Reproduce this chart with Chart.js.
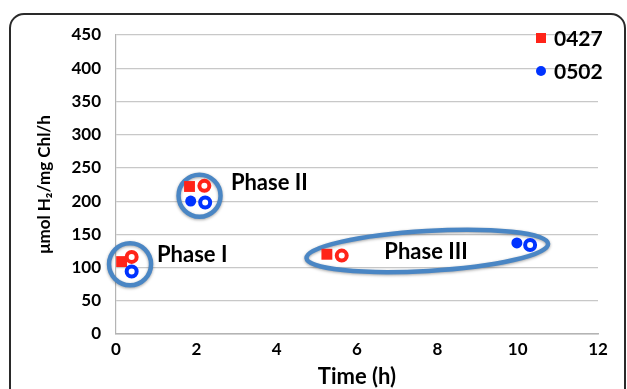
<!DOCTYPE html>
<html>
<head>
<meta charset="utf-8">
<script src="https://cdn.jsdelivr.net/npm/chart.js@4.4.1/dist/chart.umd.min.js"></script>
<style>
  html, body { margin:0; padding:0; background:#fff; overflow:hidden; }
  #wrap { position:relative; width:627px; height:389px; }
  #frame { position:absolute; left:9px; top:13px; width:613px; height:420px;
           border:2px solid #2a2a2a; border-radius:15px; }
  #chart { position:absolute; left:0; top:0; }
</style>
</head>
<body>
<div id="wrap">
  <div id="frame"></div>
  <canvas id="chart" width="627" height="389"></canvas>
</div>
<script>
// ---------- Data ----------
const xTicks = [0, 2, 4, 6, 8, 10, 12];
const yTicks = [0, 50, 100, 150, 200, 250, 300, 350, 400, 450];

// 0427 (filled squares) and its open-circle companion
const s0427 = [ {x:0.14, y:109}, {x:1.83, y:222}, {x:5.25, y:120} ];
const s0427open = [ {x:0.39, y:116}, {x:2.20, y:223}, {x:5.62, y:118} ];
// 0502 (filled circles) and its open-circle companion
const s0502 = [ {x:1.86, y:200}, {x:9.98, y:137} ];
const s0502open = [ {x:0.39, y:94}, {x:2.22, y:198}, {x:10.31, y:134} ];

// phase rings: centre in data units
const phaseNames = ['Phase I', 'Phase II', 'Phase III'];
const phaseRingX = [0.35, 2.08, 7.75];
const phaseRingY = [105, 208, 125];
const phaseLabelX = [1.02, 2.86, 7.72];
const phaseLabelY = [119, 228, 124];

const RED = '#ff2419';
const BLUE = '#0033ff';
const RING = '#4a86c4';
const FONT = 'Lato, "Open Sans", sans-serif';

// ---------- Plugins ----------
const phasePlugin = {
  id: 'phases',
  beforeDatasetsDraw(chart){
    const ctx = chart.ctx;
    const xs = chart.scales.x, ys = chart.scales.y;
    ctx.save();
    ctx.strokeStyle = RING;
    ctx.lineWidth = 4.5;
    ctx.shadowColor = 'rgba(0,0,0,0.35)';
    ctx.shadowBlur = 3;
    ctx.shadowOffsetY = 1;
    // ring sizes (px): circles for I & II, tilted ellipse for III
    const rx = [21, 21, 121], ry = [21, 21, 20], rot = [0, 0, -0.059];
    phaseNames.forEach((n, i) => {
      ctx.beginPath();
      ctx.ellipse(xs.getPixelForValue(phaseRingX[i]), ys.getPixelForValue(phaseRingY[i]), rx[i], ry[i], rot[i], 0, Math.PI*2);
      ctx.stroke();
    });
    ctx.restore();

    ctx.save();
    ctx.fillStyle = '#000';
    ctx.font = 'bold 22px ' + FONT;
    ctx.textBaseline = 'middle';
    phaseNames.forEach((n, i) => {
      ctx.textAlign = i === 2 ? 'center' : 'left';
      ctx.fillText(n, xs.getPixelForValue(phaseLabelX[i]), ys.getPixelForValue(phaseLabelY[i]));
    });
    ctx.restore();
  },
  afterDraw(chart){
    // legend, top right over the plot
    const ctx = chart.ctx;
    const items = chart.data.datasets.filter(d => d.showInLegend);
    ctx.save();
    ctx.font = 'bold 21px ' + FONT;
    ctx.textBaseline = 'middle';
    ctx.textAlign = 'left';
    items.forEach((d, i) => {
      const cx = 541, cy = 38 + i * 33;
      ctx.fillStyle = d.backgroundColor;
      if(d.pointStyle === 'rect') ctx.fillRect(cx - 5, cy - 5, 10, 10);
      else { ctx.beginPath(); ctx.arc(cx, cy, 5, 0, Math.PI*2); ctx.fill(); }
      ctx.fillStyle = '#000';
      ctx.fillText(d.label, 554, cy + 1);
    });
    ctx.restore();
  }
};

// ---------- Chart ----------
const ctx = document.getElementById('chart').getContext('2d');
new Chart(ctx, {
  type: 'scatter',
  data: {
    datasets: [
      { label:'0427 open', data:s0427open, pointStyle:'circle', pointRadius:5, borderWidth:4,
        borderColor:RED, backgroundColor:'#fff', order:0 },
      { label:'0502 open', data:s0502open, pointStyle:'circle', pointRadius:5, borderWidth:4,
        borderColor:BLUE, backgroundColor:'#fff', order:0 },
      { label:'0427', data:s0427, pointStyle:'rect', pointRadius:7.7, borderWidth:0,
        borderColor:RED, backgroundColor:RED, order:1, showInLegend:true },
      { label:'0502', data:s0502, pointStyle:'circle', pointRadius:5.5, borderWidth:0,
        borderColor:BLUE, backgroundColor:BLUE, order:1, showInLegend:true }
    ]
  },
  options: {
    responsive:false,
    animation:false,
    events:[],
    layout:{ padding:{ left:30, top:35, right:29, bottom:0 } },
    plugins:{ legend:{ display:false }, tooltip:{ enabled:false } },
    scales:{
      x:{
        type:'linear', min:0, max:12,
        afterBuildTicks: s => { s.ticks = xTicks.map(v => ({ value:v })); },
        afterFit: s => { s.height = 55; },
        grid:{ display:false, drawTicks:false },
        border:{ display:true, color:'#b4b4b4', width:1.5 },
        ticks:{ padding:5, color:'#000', font:{ family:FONT, size:17, weight:'bold' }, maxRotation:0 },
        title:{ display:true, text:'Time (h)', color:'#000', padding:{ top:0, bottom:-1 },
                font:{ family:FONT, size:22, weight:'bold' } }
      },
      y:{
        type:'linear', min:0, max:450,
        afterBuildTicks: s => { s.ticks = yTicks.map(v => ({ value:v })); },
        afterFit: s => { s.width = 86; },
        grid:{ color:'#c8c8c8', lineWidth:1.2, drawTicks:false },
        border:{ display:true, color:'#b4b4b4', width:1.2 },
        ticks:{ padding:15, color:'#000', font:{ family:FONT, size:17, weight:'bold' } },
        title:{ display:true, text:'μmol H₂/mg Chl/h', color:'#000', padding:{ top:4, bottom:0 },
                font:{ family:FONT, size:17, weight:'bold' } }
      }
    }
  },
  plugins:[phasePlugin]
});
</script>
</body>
</html>
